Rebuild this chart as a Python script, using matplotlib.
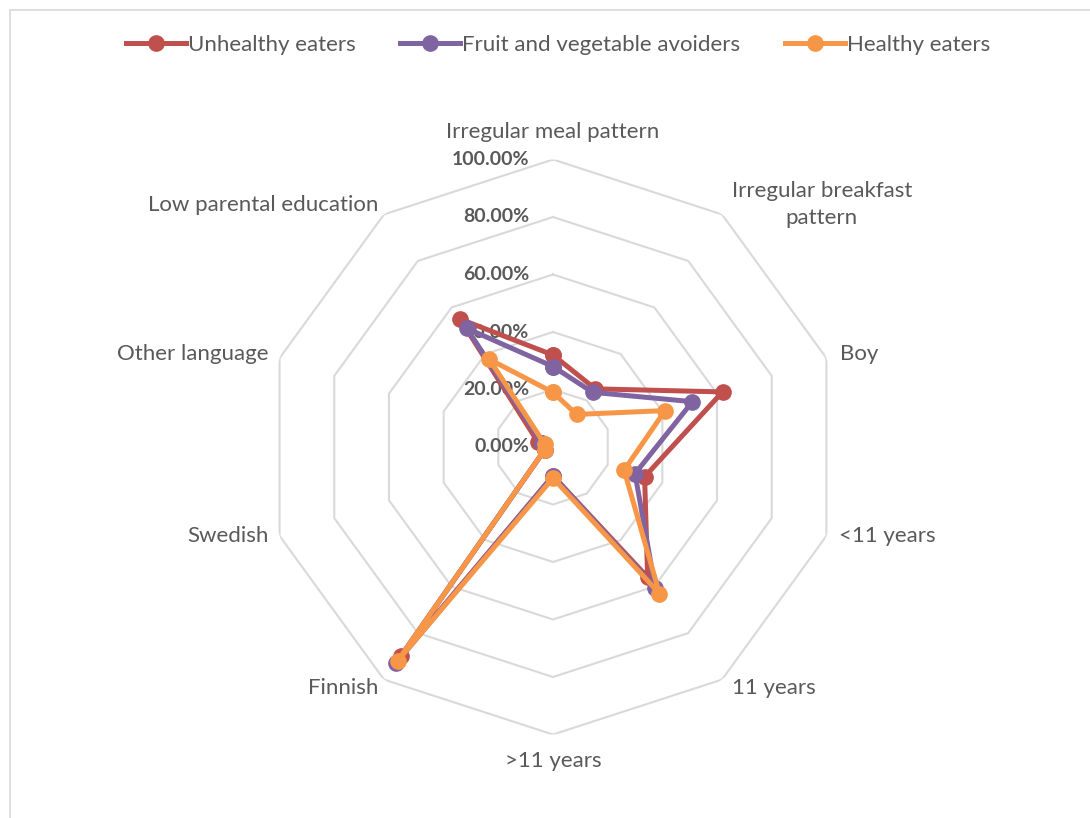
import numpy as np
import matplotlib
matplotlib.use("Agg")
import matplotlib.pyplot as plt
from matplotlib.patches import Rectangle

plt.rcParams['font.family'] = ['Lato', 'DejaVu Sans']

categories = ['Irregular meal pattern', 'Irregular breakfast\npattern', 'Boy',
              '<11 years', '11 years', '>11 years', 'Finnish', 'Swedish',
              'Other language', 'Low parental education']

# shares per group (fraction of group)
unhealthy = [0.32, 0.25, 0.62, 0.335, 0.56, 0.10, 0.90, 0.03, 0.055, 0.55]
fv_avoiders = [0.28, 0.235, 0.51, 0.30, 0.605, 0.10, 0.93, 0.03, 0.04, 0.51]
healthy = [0.19, 0.14, 0.41, 0.26, 0.63, 0.108, 0.92, 0.03, 0.03, 0.377]

series = {
    'Unhealthy eaters': (unhealthy, '#C0504D'),
    'Fruit and vegetable avoiders': (fv_avoiders, '#8064A2'),
    'Healthy eaters': (healthy, '#F79646'),
}

r_ticks = [0.0, 0.2, 0.4, 0.6, 0.8, 1.0]
r_tick_labels = ['0.00%', '20.00%', '40.00%', '60.00%', '80.00%', '100.00%']

# label offsets (points) and alignment, one per category
label_pos = [
    ((0, 20), 'center'),
    ((7, 7), 'left'),
    ((10, 3), 'left'),
    ((9, 0), 'left'),
    ((7, -6), 'left'),
    ((0, -19), 'center'),
    ((-4, -6), 'right'),
    ((-8, 0), 'right'),
    ((-8, 3), 'right'),
    ((-4, 7), 'right'),
]

text_color = '#595959'
grid_color = '#D9D9D9'

n = len(categories)
theta = np.arange(n) * 2 * np.pi / n
theta_closed = np.append(theta, theta[0])

fig = plt.figure(figsize=(10.9, 8.18), dpi=100)

# chart area border
fig.patches.append(Rectangle((10 / 1090, -0.05), 1.1, 1.05 - 10 / 818,
                             transform=fig.transFigure, fill=False,
                             edgecolor=grid_color, linewidth=1.2))

cx, cy, rad = 553 / 1090, 1 - 447 / 818, 287.5
w, h = 2 * rad / 1090, 2 * rad / 818
ax = fig.add_axes([cx - w / 2, cy - h / 2, w, h], projection='polar')
ax.set_theta_zero_location('N')
ax.set_theta_direction(-1)
ax.set_ylim(0, 1)
ax.grid(False)
ax.spines['polar'].set_visible(False)
ax.set_xticks([])
ax.set_yticks([])
ax.patch.set_alpha(0)

# decagon gridlines
for r in r_ticks[1:]:
    ax.plot(theta_closed, [r] * (n + 1), color=grid_color, linewidth=1.5, zorder=1)

for label, (vals, color) in series.items():
    v = np.append(vals, vals[0])
    ax.plot(theta_closed, v, color=color, linewidth=3.6, marker='o',
            markersize=11, label=label, zorder=3, clip_on=False)

for r, lab in zip(r_ticks, r_tick_labels):
    ax.annotate(lab, xy=(0, r), xytext=(-17, 0), textcoords='offset points',
                ha='right', va='center', fontsize=14, fontweight='bold',
                color=text_color, zorder=2)

for t, cat, (off, ha) in zip(theta, categories, label_pos):
    ax.annotate(cat, xy=(t, 1.0), xytext=off, textcoords='offset points',
                ha=ha, va='center', multialignment='center', fontsize=16,
                color=text_color, linespacing=1.4, annotation_clip=False)

fig.legend(loc='center', bbox_to_anchor=(0.512, 1 - 45 / 818), ncol=3,
           frameon=False, fontsize=16, labelcolor=text_color,
           handlelength=2.7, handletextpad=0.1, columnspacing=2.0)

fig.savefig('out.png', dpi=100)
